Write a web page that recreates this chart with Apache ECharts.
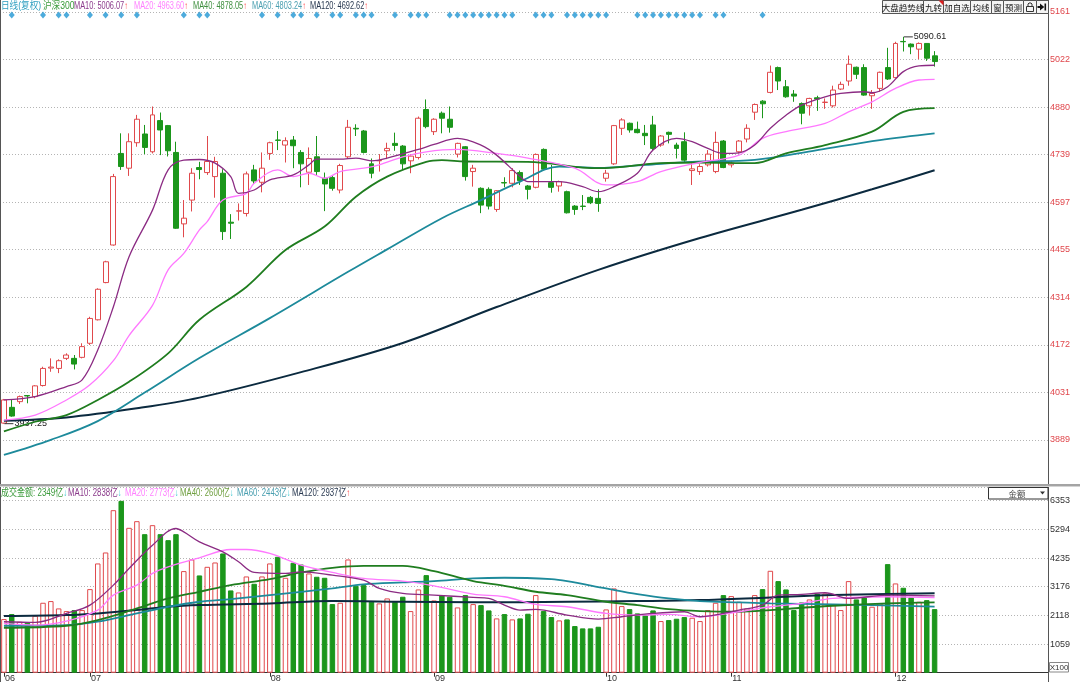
<!DOCTYPE html>
<html><head><meta charset="utf-8">
<script src="https://cdn.jsdelivr.net/npm/echarts@6/dist/echarts.min.js"></script>
<style>html,body{margin:0;padding:0;background:#fff}#c{width:1080px;height:682px}</style>
</head><body><div id="c"></div>
<script>
// ---------------- DATA ----------------
const monthNames = ['06','07','08','09','10','11','12'];
const monthDays = [11,23,21,22,16,21,6];
const opens = [
3939,3986,4003,4021,4018,4051,4103,4102,4132,4132,
4135,4177,4247,4358,4470,4743,4699,4775,4801,4748,
4841,4826,4746,4533,4604,4701,4686,4674,4684,4538,
4571,4564,4694,4657,4743,4783,4768,4783,4746,4687,
4733,4669,4671,4634,4733,4818,4810,4712,4721,4751,
4773,4765,4721,4731,4874,4808,4863,4845,4741,4763,
4689,4639,4636,4576,4656,4654,4686,4646,4642,4755,
4656,4646,4629,4586,4586,4612,4609,4669,4712,4818,
4833,4815,4803,4828,4768,4806,4768,4778,4692,4689,
4709,4689,4780,4709,4748,4786,4866,4899,4925,4999,
4942,4920,4892,4885,4909,4895,4885,4935,4959,5000,
4999,4915,4937,4999,4969,5077,5069,5054,5071,5034];
const closes = [
4008,3960,4018,4020,4050,4102,4106,4125,4142,4115,
4167,4251,4338,4420,4674,4704,4778,4845,4761,4858,
4813,4751,4520,4550,4684,4695,4719,4719,4510,4535,
4572,4682,4661,4699,4775,4782,4781,4766,4712,4728,
4689,4652,4639,4707,4821,4816,4746,4684,4722,4758,
4767,4712,4735,4848,4823,4845,4848,4821,4773,4674,
4699,4589,4586,4632,4655,4692,4662,4636,4740,4696,
4642,4659,4566,4576,4585,4596,4594,4684,4826,4843,
4813,4805,4796,4758,4795,4800,4758,4723,4697,4704,
4741,4776,4701,4714,4780,4818,4889,4891,4985,4959,
4912,4914,4863,4907,4905,4896,4932,4949,5009,4979,
4917,4922,4985,4965,5071,5076,5061,5071,5027,5017];
const lows = [
3937.25,3958,3996,3998,4013,4048,4092,4088,4127,4099,
4132,4172,4245,4356,4468,4694,4676,4763,4741,4743,
4738,4734,4518,4493,4570,4666,4679,4611,4485,4488,
4543,4555,4652,4627,4724,4753,4716,4699,4642,4649,
4679,4571,4632,4624,4728,4795,4743,4669,4689,4726,
4751,4694,4684,4725,4818,4798,4803,4805,4731,4662,
4644,4565,4576,4569,4642,4642,4649,4606,4639,4694,
4626,4629,4564,4560,4574,4592,4569,4659,4709,4798,
4805,4803,4768,4753,4763,4773,4728,4718,4649,4679,
4704,4684,4699,4701,4743,4776,4843,4848,4922,4932,
4909,4897,4830,4856,4870,4876,4880,4932,4945,4965,
4915,4876,4927,4962,4967,5047,5039,5024,5019,5002];
const highs = [
4011,4010,4021,4022,4052,4107,4132,4129,4147,4142,
4177,4256,4341,4423,4682,4803,4803,4858,4828,4883,
4865,4828,4778,4604,4699,4718,4795,4733,4696,4562,
4594,4689,4709,4746,4778,4810,4791,4795,4753,4761,
4795,4686,4676,4712,4843,4830,4813,4728,4741,4775,
4805,4768,4741,4853,4904,4848,4868,4883,4775,4765,
4709,4642,4642,4634,4672,4699,4692,4649,4743,4758,
4709,4662,4632,4589,4619,4616,4636,4694,4828,4848,
4835,4838,4828,4855,4798,4808,4775,4806,4714,4711,
4753,4808,4783,4721,4783,4830,4892,4902,5005,5002,
4962,4932,4895,4909,4915,4907,4945,4957,5035,5002,
5009,4932,4987,5058,5076,5090.61,5071,5074,5071,5048];
const volumes = [
1981,2166,1883,1846,2104,2584,2646,2375,2277,2314,
2314,3088,4036,4441,6004,6348,5352,5598,5118,5450,
5118,4897,5118,3753,4183,3593,3912,4072,4405,3039,
2965,3556,3285,3556,4036,4282,3507,4060,3998,3667,
3544,3507,2535,2584,4183,3211,3236,2621,2560,2744,
2621,2806,2277,3076,3605,2670,2867,2806,2412,2867,
2535,2498,2301,2006,2166,1969,2006,2178,2867,2277,
2055,1932,1969,1723,1637,1637,1698,2338,3113,2461,
2350,2191,2129,2301,1908,1944,1994,2055,2031,1908,
2314,2584,2867,2830,2621,2375,2867,3088,3765,3384,
3076,2314,2596,2707,2916,2929,2535,2314,3384,2707,
2793,2437,2560,4011,3298,3138,2781,2621,2682,2349];
// moving averages: [day index, value]
const ma10 = [[0,4008],[4,4018],[8,4048],[10,4068],[12,4157],[14,4286],[16,4435],[19,4574],[21,4694],[23,4723],[25,4725],[27,4714],[29,4674],[30,4624],[32,4634],[34,4664],[37,4679],[39,4709],[40,4726],[43,4726],[45,4729],[47,4721],[49,4729],[53,4755],[55,4770],[58,4788],[61,4768],[63,4738],[66,4674],[67,4659],[69,4659],[71,4659],[74,4644],[76,4629],[78,4644],[81,4684],[83,4753],[86,4788],[88,4778],[90,4758],[92,4743],[94,4745],[96,4768],[98,4818],[100,4857],[102,4887],[105,4912],[107,4922],[110,4927],[111,4924],[113,4942],[115,4987],[117,5004],[119,5006]];
const ma20 = [[0,3948],[4,3963],[8,4008],[11,4053],[14,4125],[16,4200],[19,4290],[21,4396],[23,4445],[25,4515],[26,4540],[28,4604],[31,4624],[32,4654],[35,4694],[37,4674],[39,4684],[41,4669],[43,4689],[46,4699],[48,4709],[51,4733],[54,4748],[58,4755],[63,4743],[67,4729],[73,4699],[77,4649],[81,4659],[84,4689],[89,4716],[94,4738],[97,4788],[100,4808],[105,4833],[108,4867],[111,4897],[114,4937],[117,4962],[119,4964]];
const ma40 = [[0,3914],[4,3943],[8,3963],[12,4008],[16,4062],[21,4147],[25,4247],[31,4345],[36,4455],[41,4525],[45,4614],[49,4674],[54,4718],[56,4723],[59,4719],[67,4718],[76,4699],[84,4714],[89,4716],[96,4714],[100,4743],[105,4768],[111,4808],[115,4867],[119,4878]];
const ma60 = [[0,3844],[6,3889],[12,3945],[18,4030],[25,4133],[34,4252],[44,4390],[49,4457],[56,4550],[61,4604],[66,4659],[71,4704],[76,4700],[82,4709],[88,4718],[96,4724],[104,4753],[112,4783],[119,4803]];
const ma120 = [[0,3946],[8,3956],[17,3983],[25,4015],[38,4091],[51,4178],[63,4285],[76,4396],[89,4491],[102,4575],[111,4636],[119,4693]];
const vma10 = [[0,1883],[4,1858],[8,2190],[11,2498],[14,3236],[16,3851],[19,4712],[22,5327],[23,5204],[25,4835],[28,4466],[30,4097],[32,3703],[36,3667],[38,3728],[42,3605],[46,3420],[48,3113],[51,2929],[55,2867],[60,2780],[62,2744],[64,2498],[66,2314],[68,2338],[72,2129],[76,1981],[79,2067],[83,2191],[87,2252],[89,2067],[94,2314],[97,2498],[99,2867],[102,2892],[105,2953],[108,2744],[113,2867],[119,2838]];
const vma20 = [[0,1821],[4,1760],[8,1908],[12,2314],[14,2867],[17,3236],[19,3667],[21,3912],[25,4245],[29,4552],[31,4552],[34,4405],[38,3974],[42,3703],[46,3482],[51,3384],[55,3211],[60,2904],[64,2806],[68,2523],[72,2437],[77,2191],[81,2129],[85,2154],[89,2067],[94,2252],[98,2437],[102,2560],[106,2744],[113,2806],[119,2773]];
const vma40 = [[0,1661],[8,1735],[12,1944],[17,2375],[21,2744],[25,2990],[29,3236],[34,3457],[38,3703],[42,3876],[46,3949],[51,3949],[55,3753],[60,3384],[64,3211],[68,2990],[72,2867],[77,2621],[81,2498],[85,2350],[89,2277],[94,2252],[98,2314],[102,2400],[106,2473],[113,2560],[119,2600]];
const vma60 = [[0,1735],[8,1760],[12,1883],[17,2190],[21,2436],[25,2621],[29,2719],[34,2867],[42,3113],[46,3261],[51,3334],[55,3384],[60,3482],[64,3507],[70,3457],[72,3384],[77,3113],[81,2904],[85,2744],[89,2646],[94,2596],[98,2560],[106,2523],[119,2443]];
const vma120 = [[0,2092],[8,2129],[12,2190],[17,2314],[21,2436],[25,2498],[34,2560],[42,2646],[51,2621],[60,2600],[72,2621],[81,2646],[89,2682],[98,2781],[106,2867],[119,2937]];
const signalIdx = [1,5,7,8,11,13,15,17,23,25,26,33,35,37,38,40,42,43,45,46,47,50,52,53,54,57,58,59,60,61,62,63,64,65,68,69,70,72,73,74,75,76,77,81,82,83,84,85,86,87,88,89,91,92,97];
const priceTicks = ['3889','4031','4172','4314','4455','4597','4739','4880','5022','5161'];
const volTicks = ['1059','2118','3176','4235','5294','6353'];
const priceLegendText = [['日线(复权)',''],['沪深300',''],['MA10: 5006.07','↑'],['MA20: 4963.60','↑'],['MA40: 4878.05','↑'],['MA60: 4803.24','↑'],['MA120: 4692.62','↑']];
const volLegendText = [['成交金额: 2349亿','↓'],['MA10: 2838亿','↓'],['MA20: 2773亿','↓'],['MA40: 2600亿','↓'],['MA60: 2443亿','↓'],['MA120: 2937亿','↑']];
const buttonText = ['大盘趋势线','九转','加自选','均线','窗','预测','',''];

// ---------------- BUILD ----------------
const TOTAL_SLOTS = 134;
const categories = [];
const monthStart = new Set();
monthNames.forEach((m,k)=>{ monthStart.add(categories.length); for(let d=0; d<monthDays[k]; d++) categories.push(m+'-'+d); });
while (categories.length < TOTAL_SLOTS) categories.push('p'+categories.length);

const FONT = '"Liberation Sans","Noto Sans CJK SC",sans-serif';
const UP = '#e0494c', DOWN = '#1b961b';
const C_MA10='#8b2b83', C_MA20='#ff78ff', C_MA40='#1f7d1f', C_MA60='#1d8a9b', C_MA120='#0b2a3f';

const kData = opens.map((o,i)=>[o, closes[i], lows[i], highs[i]]);
const volData = volumes.map((v,i)=> closes[i] >= opens[i]
  ? {value:v, itemStyle:{color:'#ffffff', borderColor:UP, borderWidth:1}}
  : {value:v, itemStyle:{color:DOWN, borderColor:DOWN, borderWidth:1}});
const hiIdx = highs.indexOf(Math.max(...highs));
const loIdx = lows.indexOf(Math.min(...lows));

function maLine(data, color, width, xi, yi){
  return {type:'line', data, xAxisIndex:xi, yAxisIndex:yi, smooth:0.35, symbol:'none', showSymbol:false,
    lineStyle:{color, width}, z:5, silent:true};
}

// graphics
const G = [];
G.push({type:'line', shape:{x1:0.5,y1:0,x2:0.5,y2:682}, style:{stroke:'#555',lineWidth:1}, z:100});
G.push({type:'line', shape:{x1:1048.5,y1:0,x2:1048.5,y2:682}, style:{stroke:'#555',lineWidth:1}, z:100});
G.push({type:'rect', shape:{x:0,y:484,width:1080,height:2}, style:{fill:'#a4a4a4'}, z:100});
G.push({type:'line', shape:{x1:0,y1:486.5,x2:1080,y2:486.5}, style:{stroke:'#d4d4d4',lineWidth:1}, z:100});

function legendItems(items, xs, scales, colors, arrowColors, yc){
  items.forEach(([t,a],k)=>{
    G.push({type:'text', x:xs[k], y:yc, scaleX:scales[k], z:110,
      style:{text:'{t|'+t+'}{a|'+a+'}', verticalAlign:'middle', textVerticalAlign:'middle',
        rich:{t:{fill:colors[k], fontSize:10, fontFamily:FONT}, a:{fill:arrowColors[k], fontSize:10, fontFamily:FONT}}}});
  });
}
legendItems(priceLegendText, [1,43,74,134,193,252,310], [0.86,0.86,0.74,0.74,0.74,0.74,0.74],
  ['#2f9fc0','#3a9a3a','#8b3a8b','#ff80ff','#3f8f3f','#4a9fb0','#283850'],
  ['#f33','#f33','#f33','#f33','#f33','#f33','#f33'], 6);
legendItems(volLegendText, [1,68,125,180,237,292], [0.8,0.78,0.78,0.78,0.78,0.78],
  ['#3a9a3a','#8b3a8b','#ff80ff','#6f9f3f','#4a9fb0','#283850'],
  ['#3cc8d0','#3cc8d0','#3cc8d0','#3cc8d0','#3cc8d0','#f33'], 493);

// buttons (top right)
const btnX = [882,923,943,970,991,1003,1023,1036,1048];
buttonText.forEach((t,k)=>{
  const x0 = btnX[k], x1 = btnX[k+1];
  G.push({type:'rect', shape:{x:x0+0.5,y:0.5,width:x1-x0,height:13}, style:{fill:'#f5f5f5',stroke:'#555',lineWidth:1}, z:120});
  if (t) G.push({type:'text', x:(x0+x1)/2+0.5, y:7.5, z:121,
    style:{text:t, fill:'#111', fontSize:8.5, fontFamily:'"Noto Sans CJK SC",sans-serif', align:'center', textAlign:'center', verticalAlign:'middle', textVerticalAlign:'middle'}});
});
G.push({type:'polygon', shape:{points:[[938.5,0.5],[943.5,0.5],[943.5,5.5]]}, style:{fill:'#e02020'}, z:122});
G.push({type:'rect', shape:{x:1026.5,y:6.5,width:7,height:5}, style:{fill:'none',stroke:'#333',lineWidth:1}, z:122});
G.push({type:'polyline', shape:{points:[[1028,6.5],[1028,4],[1029,3],[1031,3],[1032,4],[1032,6.5]]}, style:{fill:'none',stroke:'#333',lineWidth:1}, z:122});
G.push({type:'line', shape:{x1:1037.5,y1:7,x2:1041,y2:7}, style:{stroke:'#111',lineWidth:2}, z:122});
G.push({type:'polygon', shape:{points:[[1040,3.5],[1044.3,7],[1040,10.5]]}, style:{fill:'#111'}, z:122});
G.push({type:'rect', shape:{x:1044.5,y:3.5,width:1.6,height:7}, style:{fill:'#111'}, z:122});
// 金额 dropdown
G.push({type:'rect', shape:{x:988.5,y:487.5,width:59.5,height:11.5}, style:{fill:'#fff',stroke:'#333',lineWidth:1}, z:120});
G.push({type:'text', x:1017, y:493.5, z:121, style:{text:'金额', fill:'#444', fontSize:8.5, fontFamily:'"Noto Sans CJK SC",sans-serif', align:'center', textAlign:'center', verticalAlign:'middle', textVerticalAlign:'middle'}});
G.push({type:'polygon', shape:{points:[[1040,491.5],[1045,491.5],[1042.5,494.5]]}, style:{fill:'#333'}, z:121});
// X100 box
G.push({type:'rect', shape:{x:1049.5,y:662.5,width:19,height:9.5}, style:{fill:'#fff',stroke:'#888',lineWidth:1}, z:120});
G.push({type:'text', x:1059, y:667.5, z:121, style:{text:'X100', fill:'#333', fontSize:8, fontFamily:FONT, align:'center', textAlign:'center', verticalAlign:'middle', textVerticalAlign:'middle'}});

const splitStyle = {show:true, lineStyle:{type:[1,2], color:'#b4b4b4', width:1}};

const option = {
  animation:false,
  backgroundColor:'#ffffff',
  textStyle:{fontFamily:FONT},
  grid:[
    {left:0, right:32, top:12, height:475.4, outerBoundsMode:'none'},
    {left:0, right:32, top:500.7, height:172, outerBoundsMode:'none'},
    {left:0, right:32, top:10, height:10, outerBoundsMode:'none'}
  ],
  xAxis:[
    {type:'category', gridIndex:0, data:categories, axisLine:{show:false}, axisTick:{show:false}, axisLabel:{show:false}, splitLine:{show:false}},
    {type:'category', gridIndex:1, data:categories,
      axisLine:{show:true, lineStyle:{color:'#333', width:1}},
      axisTick:{show:true, alignWithLabel:true, length:4, interval:(i)=>monthStart.has(i), lineStyle:{color:'#333'}},
      axisLabel:{show:true, interval:(i)=>monthStart.has(i), formatter:(v)=>v.split('-')[0], align:'left', fontSize:9, color:'#333', margin:1, padding:[0,0,0,1]},
      splitLine:{show:false}},
    {type:'category', gridIndex:2, data:categories, show:false}
  ],
  yAxis:[
    {type:'value', gridIndex:0, min:3747.25, max:5164.75, show:false},
    {type:'value', gridIndex:0, min:0, max:10, interval:1, position:'right',
      axisLine:{show:false}, axisTick:{show:false},
      axisLabel:{formatter:(v)=> v>=1 ? priceTicks[v-1] : '', color:'#e0474c', fontSize:9, margin:2, showMaxLabel:true},
      splitLine:splitStyle},
    {type:'value', gridIndex:1, min:0, max:6354, show:false},
    {type:'value', gridIndex:1, min:0, max:6, interval:1, position:'right',
      axisLine:{show:false}, axisTick:{show:false},
      axisLabel:{formatter:(v)=> v>=1 ? volTicks[v-1] : '', color:'#333', fontSize:9, margin:2, showMaxLabel:true},
      splitLine:splitStyle},
    {type:'value', gridIndex:2, min:0, max:2, show:false}
  ],
  series:[
    {type:'candlestick', xAxisIndex:0, yAxisIndex:0, data:kData, barWidth:'70%', z:3, silent:true,
      itemStyle:{color:'#ffffff', color0:DOWN, borderColor:UP, borderColor0:DOWN, borderWidth:1},
      markPoint:{symbol:'rect', symbolSize:[9,1], symbolOffset:[5,0], silent:true,
        itemStyle:{color:'#333'},
        label:{show:true, position:'right', distance:1, color:'#222', fontSize:9, fontFamily:FONT, formatter:(p)=>Number(p.value).toFixed(2)},
        data:[{coord:[hiIdx, highs[hiIdx]], value:highs[hiIdx]}, {coord:[loIdx, lows[loIdx]], value:lows[loIdx]}]}},
    maLine(ma120, C_MA120, 2, 0, 0),
    maLine(ma60, C_MA60, 1.8, 0, 0),
    maLine(ma40, C_MA40, 1.8, 0, 0),
    maLine(ma20, C_MA20, 1.3, 0, 0),
    maLine(ma10, C_MA10, 1.3, 0, 0),
    {type:'bar', xAxisIndex:1, yAxisIndex:2, data:volData, barWidth:'70%', z:3, silent:true},
    maLine(vma120, C_MA120, 2, 1, 2),
    maLine(vma60, C_MA60, 1.8, 1, 2),
    maLine(vma40, C_MA40, 1.8, 1, 2),
    maLine(vma20, C_MA20, 1.3, 1, 2),
    maLine(vma10, C_MA10, 1.3, 1, 2),
    {type:'scatter', xAxisIndex:2, yAxisIndex:4, data:signalIdx.map(i=>[i,1]), symbol:'diamond', symbolSize:[6,7], itemStyle:{color:'#2196d3'}, silent:true, z:6}
  ],
  graphic:{elements:G}
};
const chart = echarts.init(document.getElementById('c'), null, {renderer:'canvas'});
chart.setOption(option);
</script>
</body></html>
